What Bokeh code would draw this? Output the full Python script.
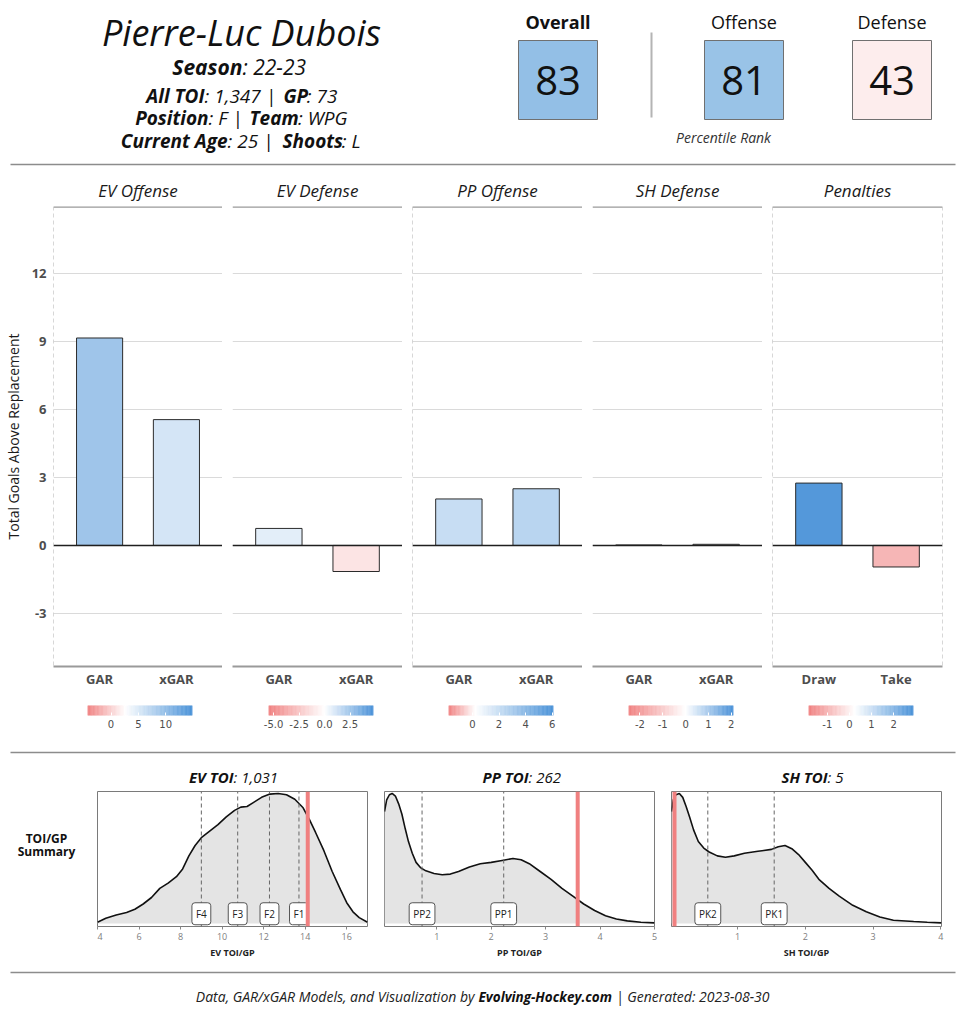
import numpy as np
from bokeh.plotting import figure
from bokeh.layouts import column, row
from bokeh.models import Range1d, FixedTicker, Span
from bokeh.core.properties import value
from bokeh.embed import file_html
from bokeh.resources import INLINE

FONT = "Open Sans"

# ------------------------------------------------------------------ data
player_name = "Pierre-Luc Dubois"
season = "22-23"
all_toi = 1347
games_played = 73
position = "F"
team = "WPG"
current_age = 25
shoots = "L"

pct_labels = ["Overall", "Offense", "Defense"]
pct_values = [83, 81, 43]

facet_names = ["EV Offense", "EV Defense", "PP Offense", "SH Defense", "Penalties"]
facet_categories = [["GAR", "xGAR"], ["GAR", "xGAR"], ["GAR", "xGAR"], ["GAR", "xGAR"], ["Draw", "Take"]]
facet_values = [[9.15, 5.55], [0.75, -1.15], [2.05, 2.5], [0.02, 0.05], [2.75, -0.95]]
y_ticks = [-3, 0, 3, 6, 9, 12]
y_tick_labels = ["-3", "0", "3", "6", "9", "12"]

legend_low = [-4.3, -5.5, -1.8, -2.5, -1.85]
legend_mid = [2.6, 0.0, 0.23, 0.0, 0.25]
legend_high = [14.9, 4.8, 6.1, 2.1, 2.9]
legend_ticks = [[0, 5, 10], [-5.0, -2.5, 0.0, 2.5], [0, 2, 4, 6], [-2, -1, 0, 1, 2], [-1, 0, 1, 2]]
legend_tick_labels = [["0", "5", "10"], ["-5.0", "-2.5", "0.0", "2.5"], ["0", "2", "4", "6"],
                      ["-2", "-1", "0", "1", "2"], ["-1", "0", "1", "2"]]

toi_names = ["EV TOI", "PP TOI", "SH TOI"]
toi_minutes = [1031, 262, 5]
toi_axis_titles = ["EV TOI/GP", "PP TOI/GP", "SH TOI/GP"]
toi_xlims = [(4.0, 17.0), (0.04, 5.0), (0.024, 4.01)]
toi_xticks = [[4, 6, 8, 10, 12, 14, 16], [1, 2, 3, 4, 5], [1, 2, 3, 4]]

ev_x = [4.0, 4.4, 4.9, 5.4, 5.8, 6.2, 6.6, 7.0, 7.4, 7.8, 8.1, 8.4, 8.7, 9.0, 9.4, 9.8, 10.2,
        10.6, 10.9, 11.2, 11.5, 11.9, 12.3, 12.7, 13.1, 13.5, 13.9, 14.2, 14.5, 14.9, 15.3,
        15.7, 16.0, 16.3, 16.6, 17.0]
ev_y = [0.01, 0.04, 0.065, 0.085, 0.11, 0.15, 0.20, 0.27, 0.31, 0.36, 0.42, 0.52, 0.60, 0.66,
        0.71, 0.76, 0.82, 0.87, 0.895, 0.90, 0.93, 0.97, 0.995, 1.0, 0.99, 0.955, 0.89, 0.80,
        0.70, 0.56, 0.40, 0.26, 0.16, 0.09, 0.045, 0.01]
pp_x = [0.04, 0.08, 0.13, 0.18, 0.24, 0.30, 0.36, 0.42, 0.48, 0.55, 0.62, 0.70, 0.80, 0.95,
        1.1, 1.25, 1.4, 1.6, 1.8, 2.0, 2.2, 2.4, 2.55, 2.7, 2.9, 3.1, 3.3, 3.5, 3.7, 3.9, 4.1,
        4.3, 4.5, 4.75, 5.0]
pp_y = [0.86, 0.95, 0.99, 1.0, 0.98, 0.92, 0.84, 0.73, 0.63, 0.54, 0.47, 0.43, 0.405, 0.385,
        0.375, 0.38, 0.40, 0.435, 0.46, 0.47, 0.485, 0.50, 0.49, 0.46, 0.40, 0.34, 0.27, 0.21,
        0.15, 0.10, 0.06, 0.035, 0.02, 0.01, 0.005]
sh_x = [0.024, 0.05, 0.09, 0.14, 0.19, 0.24, 0.29, 0.35, 0.42, 0.5, 0.58, 0.7, 0.82, 0.95,
        1.1, 1.3, 1.5, 1.6, 1.7, 1.8, 1.9, 2.0, 2.1, 2.2, 2.35, 2.5, 2.7, 2.9, 3.1, 3.3, 3.6,
        3.8, 4.01]
sh_y = [0.86, 0.95, 0.99, 1.0, 0.97, 0.90, 0.82, 0.72, 0.63, 0.58, 0.55, 0.52, 0.51, 0.52,
        0.54, 0.555, 0.57, 0.59, 0.60, 0.575, 0.53, 0.47, 0.41, 0.34, 0.27, 0.21, 0.14, 0.09,
        0.05, 0.025, 0.015, 0.01, 0.005]
toi_density_x = [ev_x, pp_x, sh_x]
toi_density_y = [ev_y, pp_y, sh_y]

line_labels = [["F4", "F3", "F2", "F1"], ["PP2", "PP1"], ["PK2", "PK1"]]
line_positions = [[9.0, 10.75, 12.28, 13.7], [0.73, 2.23], [0.56, 1.54]]

# ------------------------------------------------------------------ helpers
RED = (240, 128, 128)
BLUE = (74, 146, 216)
PCT_BLUE = (91, 158, 217)


def mix(c, t):
    return "#%02x%02x%02x" % tuple(int(round(255 + t * (ci - 255))) for ci in c)


def diverge(v, lo, mid, hi, low_c=RED, high_c=BLUE):
    if v >= mid:
        return mix(high_c, min(1.0, (v - mid) / (hi - mid)))
    return mix(low_c, min(1.0, (mid - v) / (mid - lo)))


def canvas(w, h):
    p = figure(width=w, height=h, x_range=Range1d(0, w), y_range=Range1d(h, 0),
               toolbar_location=None, output_backend="svg", min_border=0,
               x_axis_location=None, y_axis_location=None, outline_line_color=None)
    p.grid.visible = False
    return p


def put(p, x, y, s, size, style="normal", align="center", color="#111111", font=FONT):
    p.text(x=[x], y=[y], text=[s], text_font=value(font), text_font_size=value(f"{size}px"),
           text_font_style=style, text_align=align, text_baseline="middle", text_color=color)


SEP = "#8c8c8c"

# ------------------------------------------------------------------ header
hdr = canvas(964, 168)
put(hdr, 241, 32, player_name, 36, "italic")
put(hdr, 242, 66, "Season", 21, "bold italic", "right")
put(hdr, 242, 66, f": {season}", 21, "italic", "left")
# (label1, rest1, split1, label2, start2, rest2, end2)
info_lines = [
    (95, "All TOI", f": {all_toi:,} |", 204, "GP", 283, f": {games_played}", 337),
    (117, "Position", f": {position} |", 208, "Team", 249, f": {team}", 347),
    (140, "Current Age", f": {current_age} |", 227, "Shoots", 282, f": {shoots}", 360),
]
for yy, b1, r1, s1, b2, s2, r2, e2 in info_lines:
    put(hdr, s1, yy, b1, 19, "bold italic", "right")
    put(hdr, s1, yy, r1, 19, "italic", "left")
    put(hdr, s2, yy, b2, 19, "bold italic", "left")
    put(hdr, e2, yy, r2, 19, "italic", "right")

pct_x = [557.5, 743.5, 891.5]
hdr.rect(x=pct_x, y=[79.5] * 3, width=79, height=79,
         fill_color=[diverge(v, 0, 50, 100, RED, PCT_BLUE) for v in pct_values],
         line_color="#707070", line_width=1)
hdr.text(x=pct_x, y=[80] * 3, text=[str(v) for v in pct_values], text_font=value(FONT),
         text_font_size=value("40px"), text_align="center", text_baseline="middle",
         text_color="#111111")
for lx, lab, st in zip(pct_x, pct_labels, ["bold", "normal", "normal"]):
    put(hdr, lx, 21, lab, 18, st)
hdr.segment(x0=[651], x1=[651], y0=[32], y1=[117], line_color="#b4b4b4", line_width=2)
put(hdr, 723, 137, "Percentile Rank", 14, "italic", color="#333333")
hdr.segment(x0=[10], x1=[955], y0=[164], y1=[164], line_color=SEP, line_width=1.5)

# ------------------------------------------------------------------ bar panels
Y_LO, Y_HI = -5.34, 14.95
dash_left = [True, False, True, False, True]
dash_right = [False, True, False, True, True]
bar_figs = []
cb_figs = []
for i, name in enumerate(facet_names):
    first = i == 0
    last = i == len(facet_names) - 1
    bl = 52 if first else 10
    br = 22 if last else 0
    cats = facet_categories[i]
    xs = list(range(1, len(cats) + 1))
    p = figure(width=bl + 170 + br, height=532, x_range=Range1d(0.4, len(cats) + 0.6),
               y_range=Range1d(Y_LO, Y_HI), toolbar_location=None, output_backend="svg",
               min_border_left=bl, min_border_right=br, min_border_top=38, min_border_bottom=34,
               y_axis_location="left" if first else None, outline_line_color=None, title=name)
    p.title.text_font = FONT
    p.title.text_font_style = "italic"
    p.title.text_font_size = "17px"
    p.title.align = "center"
    p.title.text_color = "#1a1a1a"
    p.title.standoff = 9

    p.xgrid.visible = False
    p.ygrid.ticker = FixedTicker(ticks=y_ticks)
    p.ygrid.grid_line_color = "#dadada"
    p.ygrid.grid_line_width = 1

    cols = [diverge(v, legend_low[i], legend_mid[i], legend_high[i]) for v in facet_values[i]]
    p.vbar(x=xs, top=facet_values[i], bottom=0, width=0.6, fill_color=cols,
           line_color="#2b2b2b", line_width=1)
    p.add_layout(Span(location=0, dimension="width", line_color="#1f1f1f", line_width=1.5))
    p.add_layout(Span(location=Y_HI, dimension="width", line_color="#9a9a9a", line_width=2.5))
    if dash_left[i]:
        p.add_layout(Span(location=0.4, dimension="height", line_color="#b0b0b0",
                          line_width=1, line_dash="4 3"))
    if dash_right[i]:
        p.add_layout(Span(location=len(cats) + 0.6, dimension="height", line_color="#b0b0b0",
                          line_width=1, line_dash="4 3"))

    xa = p.xaxis[0]
    xa.ticker = FixedTicker(ticks=xs)
    xa.major_label_overrides = {x: c for x, c in zip(xs, cats)}
    xa.axis_line_color = "#9a9a9a"
    xa.axis_line_width = 2
    xa.major_tick_line_color = None
    xa.major_tick_out = 0
    xa.major_tick_in = 0
    xa.minor_tick_line_color = None
    xa.minor_tick_out = 0
    xa.major_label_text_font = FONT
    xa.major_label_text_font_style = "bold"
    xa.major_label_text_font_size = "13px"
    xa.major_label_text_color = "#4d4d4d"
    xa.major_label_standoff = 3
    if first:
        ya = p.yaxis[0]
        ya.ticker = FixedTicker(ticks=y_ticks)
        ya.major_label_overrides = {t: s for t, s in zip(y_ticks, y_tick_labels)}
        ya.axis_line_color = None
        ya.major_tick_line_color = None
        ya.major_tick_out = 0
        ya.major_tick_in = 0
        ya.minor_tick_line_color = None
        ya.minor_tick_out = 0
        ya.major_label_text_font = FONT
        ya.major_label_text_font_style = "bold"
        ya.major_label_text_font_size = "13px"
        ya.major_label_text_color = "#4d4d4d"
        ya.major_label_standoff = 7
        ya.axis_label = "Total Goals Above Replacement"
        ya.axis_label_text_font = FONT
        ya.axis_label_text_font_style = "normal"
        ya.axis_label_text_font_size = "14px"
        ya.axis_label_text_color = "#1a1a1a"
        ya.axis_label_standoff = 6
    bar_figs.append(p)

    # colour legend
    lo, hi = legend_low[i], legend_high[i]
    w = bl + 170 + br
    cbl = 87 if first else 46
    cbr = w - cbl - 105
    cb = figure(width=w, height=45, x_range=Range1d(lo, hi), y_range=Range1d(0, 1),
                toolbar_location=None, output_backend="svg", min_border_left=cbl,
                min_border_right=cbr, min_border_top=5, min_border_bottom=30,
                y_axis_location=None, outline_line_color=None)
    cb.grid.visible = False
    edges = np.linspace(lo, hi, 81)
    centers = (edges[:-1] + edges[1:]) / 2
    ccols = [diverge(v, lo, legend_mid[i], hi) for v in centers]
    cb.quad(left=edges[:-1], right=edges[1:], bottom=0, top=1, fill_color=ccols,
            line_color=ccols, line_width=0.5)
    ca = cb.xaxis[0]
    ca.ticker = FixedTicker(ticks=legend_ticks[i])
    ca.major_label_overrides = {t: s for t, s in zip(legend_ticks[i], legend_tick_labels[i])}
    ca.axis_line_color = None
    ca.major_tick_in = 3
    ca.major_tick_out = 0
    ca.major_tick_line_color = "white"
    ca.minor_tick_line_color = None
    ca.major_label_text_font = "DejaVu Sans"
    ca.major_label_text_font_size = "10px"
    ca.major_label_text_color = "#4d4d4d"
    ca.major_label_standoff = 4
    cb_figs.append(cb)

# ------------------------------------------------------------------ bottom section
sep = canvas(964, 46)
sep.segment(x0=[10], x1=[955], y0=[7], y1=[7], line_color=SEP, line_width=1.5)
title_split = [233, 528, 827]
for nm, mins, xs in zip(toi_names, toi_minutes, title_split):
    put(sep, xs, 31, nm, 15, "bold italic", "right")
    put(sep, xs, 31, f": {mins:,}", 15, "italic", "left")

lab = canvas(97, 177)
put(lab, 46, 62, "TOI/GP", 12, "bold", "center")
put(lab, 46, 79, "Summary", 12, "bold", "center")

D_LO, D_HI = -0.023, 1.015
dens_borders = [(0, 8), (9, 8), (9, 23)]
dens_figs = []
for i in range(3):
    bl, br = dens_borders[i]
    p = figure(width=bl + 270 + br, height=177, x_range=Range1d(*toi_xlims[i]),
               y_range=Range1d(D_LO, D_HI), toolbar_location=None, output_backend="svg",
               min_border_left=bl, min_border_right=br, min_border_top=0, min_border_bottom=42,
               y_axis_location=None, outline_line_color="#7a7a7a", outline_line_width=1)
    p.grid.visible = False
    xs = toi_density_x[i]
    ys = toi_density_y[i]
    n = len(line_positions[i])
    p.varea(x=xs, y1=[0] * len(xs), y2=ys, fill_color="#e4e4e4")
    p.line(xs, ys, line_color="#111111", line_width=1.6)
    p.segment(x0=line_positions[i], x1=line_positions[i], y0=[D_LO] * n, y1=[D_HI] * n,
              line_color="#666666", line_width=1, line_dash="4 3")
    p.add_layout(Span(location=toi_minutes[i] / games_played, dimension="height",
                      line_color="#f08080", line_width=4, level="glyph"))
    p.text(x=line_positions[i], y=[0.075] * n, text=line_labels[i],
           text_font=value(FONT), text_font_size=value("10px"), text_align="center",
           text_baseline="middle", text_color="#222222", background_fill_color="white",
           border_line_color="#555555", border_line_width=1, padding=4, border_radius=3)
    xa = p.xaxis[0]
    xa.ticker = FixedTicker(ticks=toi_xticks[i])
    xa.axis_line_color = None
    xa.major_tick_out = 3
    xa.major_tick_in = 0
    xa.major_tick_line_color = "#888888"
    xa.minor_tick_line_color = None
    xa.minor_tick_out = 0
    xa.major_label_text_font = FONT
    xa.major_label_text_font_size = "9px"
    xa.major_label_text_color = "#808080"
    xa.major_label_standoff = 3
    xa.axis_label = toi_axis_titles[i]
    xa.axis_label_text_font = FONT
    xa.axis_label_text_font_style = "bold"
    xa.axis_label_text_font_size = "9px"
    xa.axis_label_text_color = "#222222"
    xa.axis_label_standoff = 3
    dens_figs.append(p)

# ------------------------------------------------------------------ footer
foot = canvas(964, 56)
foot.segment(x0=[10], x1=[955], y0=[4], y1=[4], line_color=SEP, line_width=1.5)
put(foot, 474, 28, "Data, GAR/xGAR Models, and Visualization by", 14, "italic", "right", "#222222")
put(foot, 478, 28, "Evolving-Hockey.com", 13.5, "bold italic", "left", "#111111")
put(foot, 769, 28, "| Generated: 2023-08-30", 14, "italic", "right", "#222222")

layout = column(hdr, row(*bar_figs), row(*cb_figs), sep, row(lab, *dens_figs), foot)
open("out.html", "w").write(file_html(layout, INLINE, "Pierre-Luc Dubois"))
